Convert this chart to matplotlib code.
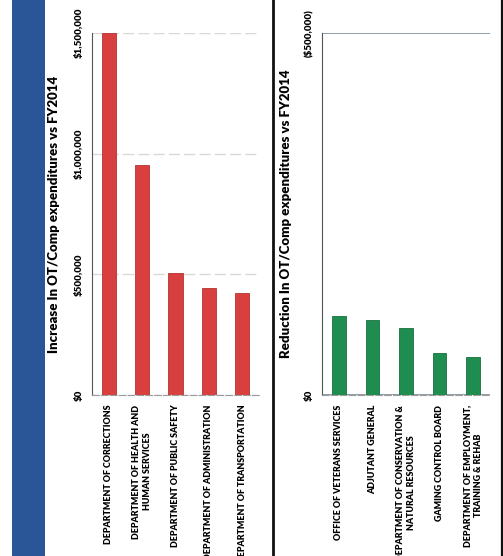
import matplotlib.pyplot as plt
from matplotlib.patches import Rectangle
from matplotlib.lines import Line2D
from matplotlib.ticker import FixedLocator, FuncFormatter

plt.rcParams['font.family'] = ['Lato', 'DejaVu Sans']

# departments with the biggest increase in OT/comp spending
inc_depts = [
    "DEPARTMENT OF CORRECTIONS",
    "DEPARTMENT OF HEALTH AND\nHUMAN SERVICES",
    "DEPARTMENT OF PUBLIC SAFETY",
    "DEPARTMENT OF ADMINISTRATION",
    "DEPARTMENT OF TRANSPORTATION",
]
inc_values = [1500000, 953000, 506000, 443000, 423000]

# departments with the biggest reduction (negative change)
red_depts = [
    "OFFICE OF VETERANS SERVICES",
    "ADJUTANT GENERAL",
    "DEPARTMENT OF CONSERVATION &\nNATURAL RESOURCES",
    "GAMING CONTROL BOARD",
    "DEPARTMENT OF EMPLOYMENT,\nTRAINING & REHAB",
]
red_values = [-109000, -103000, -92000, -58000, -52000]

W, H = 503, 556
fig = plt.figure(figsize=(W / 100, H / 100), dpi=100)
fig.patch.set_facecolor('white')


def px_axes(x0, x1, y0, y1):
    # y0/y1 measured from the top edge
    return fig.add_axes([x0 / W, (H - y1) / H, (x1 - x0) / W, (y1 - y0) / H])


def money(v, pos=None):
    if v < 0:
        return "(${:,.0f})".format(-v)
    return "${:,.0f}".format(v)


def style(ax, ticks, names, ylabel):
    for s in ['top', 'right']:
        ax.spines[s].set_visible(False)
    ax.spines['left'].set_color('#555555')
    ax.spines['bottom'].set_color('#9a9a9a')
    ax.spines['bottom'].set_linestyle((0, (6, 2)))
    ax.yaxis.set_major_locator(FixedLocator(ticks))
    ax.yaxis.set_major_formatter(FuncFormatter(money))
    ax.tick_params(axis='y', length=0, pad=6, labelsize=7)
    ax.tick_params(axis='x', length=0, pad=7)
    for t in ax.get_yticklabels():
        t.set_rotation(90)
        t.set_va('center')
        t.set_fontweight('heavy')
    ax.set_xticks(range(len(names)))
    ax.set_xticklabels(names, rotation=90, fontsize=6.4, fontweight='heavy',
                       va='top', ha='center', multialignment='center',
                       linespacing=1.35)
    ax.set_xlim(-0.5, len(names) - 0.5)
    ax.grid(axis='y', color='#d8d8d8', linewidth=1, linestyle=(0, (8, 3)))
    ax.set_axisbelow(True)
    ax.set_ylabel(ylabel, fontsize=9.5, fontweight='heavy')


# left panel: increases
ax1 = px_axes(92, 259, 33, 395)
ax1.bar(range(len(inc_values)), inc_values, width=0.42, color='#d8403f',
        edgecolor='#b83232', linewidth=0.6)
ax1.set_ylim(0, 1500000)
style(ax1, [0, 500000, 1000000, 1500000], inc_depts,
      "Increase In OT/Comp expenditures vs FY2014")
ax1.yaxis.set_label_coords(-0.19, 0.5)

# right panel: reductions, axis runs upward into negative values
ax2 = px_axes(322, 490, 33, 395)
ax2.bar(range(len(red_values)), red_values, width=0.40, color='#1f8c50',
        edgecolor='#18703f', linewidth=0.6)
ax2.set_ylim(0, -500000)
style(ax2, [0, -500000], red_depts,
      "Reduction In OT/Comp expenditures vs FY2014")
ax2.yaxis.set_label_coords(-0.18, 0.5)
ax2.grid(axis='y', color='#7f8c9c', linewidth=1.2, linestyle='-')

# blue side strip and panel borders
fig.patches.append(Rectangle((12 / W, 0), 33 / W, 1, transform=fig.transFigure,
                             facecolor='#2a5597', edgecolor='none', zorder=0))
for x, lw in [(273, 2.0), (501.5, 1.6)]:
    fig.lines.append(Line2D([x / W, x / W], [0, 1], transform=fig.transFigure,
                            color='#111111', linewidth=lw))

fig.savefig('out.png', dpi=100)
